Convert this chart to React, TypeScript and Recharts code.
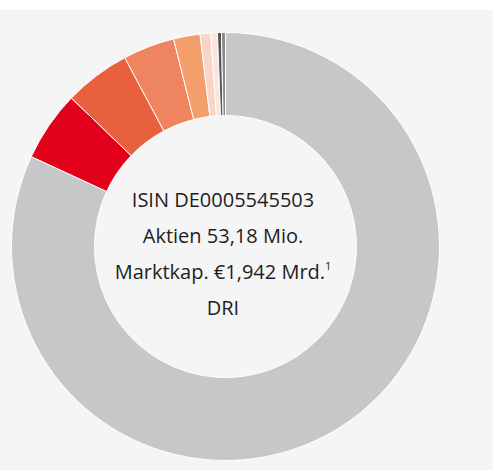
import { PieChart, Pie, Cell, Label } from "recharts";

// Anteile im Uhrzeigersinn ab 12 Uhr
const segments = ["Streubesitz", "A", "B", "C", "D", "E", "F", "G", "H"];
const shares = [81.9, 5.3, 5.0, 3.9, 2.0, 0.8, 0.5, 0.3, 0.3];
const colors = [
  "#c6c7c8",
  "#e2001a",
  "#e8603e",
  "#ef8460",
  "#f39f6b",
  "#f8d5c8",
  "#fbe5dc",
  "#555555",
  "#8a8a8a",
];
const centerLines = ["ISIN DE0005545503", "Aktien 53,18 Mio.", "Marktkap. €1,942 Mrd.", "DRI"];

const data = segments.map((name, i) => ({ name, value: shares[i] }));

function CenterText({ viewBox }: any) {
  const cx = viewBox?.cx ?? 225.5;
  const cy = viewBox?.cy ?? 246.5;
  const gap = 36;
  return (
    <g>
      {centerLines.map((line, i) => (
        <text
          key={line}
          x={cx - 2.5}
          y={cy - 39.5 + i * gap}
          textAnchor="middle"
          fill="#1e1e1e"
          fontSize={20}
          fontFamily="'Open Sans', sans-serif"
        >
          {line}
          {i === 2 && (
            <tspan fontSize={11} dy={-9}>
              1
            </tspan>
          )}
        </text>
      ))}
    </g>
  );
}

export default function App() {
  return (
    <div
      style={{
        position: "absolute",
        left: 0,
        top: 0,
        width: 493,
        height: 470,
        background: "#ffffff",
      }}
    >
      <div
        style={{
          position: "absolute",
          left: 0,
          top: 10,
          width: 493,
          height: 460,
          background: "#f5f5f5",
        }}
      />
      <div style={{ position: "absolute", left: 0, top: 0 }}>
        <PieChart width={493} height={470} margin={{ top: 0, right: 0, bottom: 0, left: 0 }}>
          <Pie
            data={data}
            dataKey="value"
            nameKey="name"
            cx={225.5}
            cy={246.5}
            innerRadius={131}
            outerRadius={214}
            startAngle={90}
            endAngle={-270}
            stroke="#ffffff"
            strokeWidth={1}
            isAnimationActive={false}
          >
            {data.map((d, i) => (
              <Cell key={d.name} fill={colors[i]} />
            ))}
            <Label position="center" content={CenterText} />
          </Pie>
        </PieChart>
      </div>
    </div>
  );
}
